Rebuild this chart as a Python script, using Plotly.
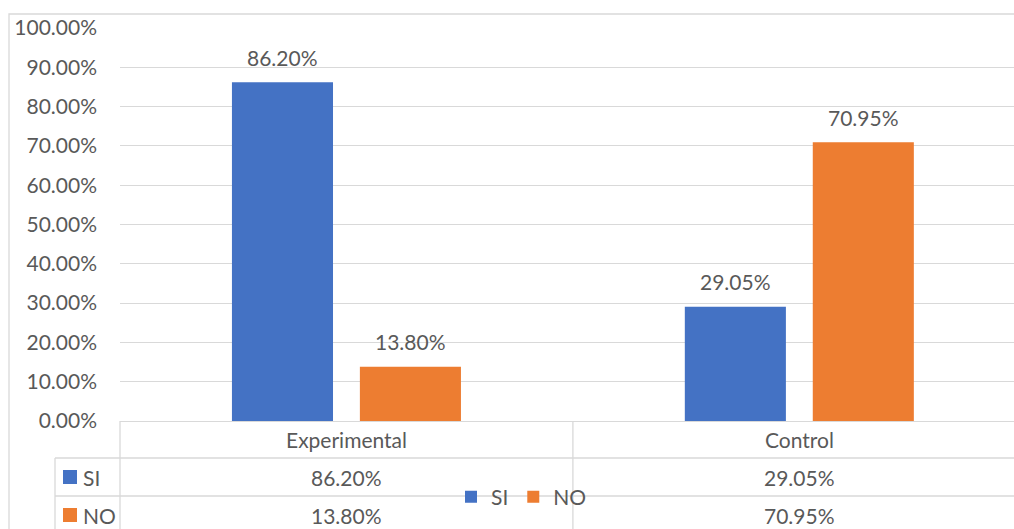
import plotly.graph_objects as go

categories = ["Experimental", "Control"]
series_names = ["SI", "NO"]
si_values = [86.20, 29.05]
no_values = [13.80, 70.95]
colors = ["#4472C4", "#ED7D31"]

W, H = 1014, 529
L, R, T, B = 120, 1014, 28, 421
FONT = "Lato"
TXT = "#595959"
GRID = "#D9D9D9"
FS = 21


def px(x):
    return (x - L) / (R - L)


def py(y):
    return (B - y) / (B - T)


fig = go.Figure()
for name, vals, col in zip(series_names, [si_values, no_values], colors):
    fig.add_trace(go.Bar(name=name, x=categories, y=vals, marker_color=col,
                         marker_line_width=0))

annotations = []
shapes = []

# data labels above the bars
for k, (vals, shift) in enumerate(zip([si_values, no_values], [-64, 64])):
    for i, v in enumerate(vals):
        annotations.append(dict(x=i, y=v, xref="x", yref="y", text=f"{v:.2f}%",
                                showarrow=False, xshift=shift, yshift=25,
                                yanchor="middle",
                                font=dict(family=FONT, size=FS, color=TXT)))

# data table: header row with categories
for i, c in enumerate(categories):
    annotations.append(dict(x=i, y=py(439), xref="x", yref="paper", text=c,
                            showarrow=False, yanchor="middle",
                            font=dict(family=FONT, size=FS, color=TXT)))

# data table: value rows
row_centers = [477, 515]
for r, (name, vals, col) in enumerate(zip(series_names, [si_values, no_values], colors)):
    yc = row_centers[r]
    annotations.append(dict(x=px(81), y=py(yc), xref="paper", yref="paper", text=name,
                            showarrow=False, xanchor="left", yanchor="middle",
                            font=dict(family=FONT, size=FS, color=TXT)))
    shapes.append(dict(type="rect", xref="paper", yref="paper",
                       x0=px(63), x1=px(77), y0=py(yc - 7), y1=py(yc + 7),
                       fillcolor=col, line_width=0))
    for i, v in enumerate(vals):
        annotations.append(dict(x=i, y=py(yc), xref="x", yref="paper", text=f"{v:.2f}%",
                                showarrow=False, yanchor="middle",
                                font=dict(family=FONT, size=FS, color=TXT)))

line = dict(color=GRID, width=1.3)
# table grid lines
shapes += [
    dict(type="line", xref="paper", yref="paper", x0=px(55), x1=px(1030), y0=py(458), y1=py(458), line=line),
    dict(type="line", xref="paper", yref="paper", x0=px(55), x1=px(1030), y0=py(496), y1=py(496), line=line),
    dict(type="line", xref="paper", yref="paper", x0=px(55), x1=px(55), y0=py(458), y1=py(545), line=line),
    dict(type="line", xref="paper", yref="paper", x0=px(120), x1=px(120), y0=py(421), y1=py(545), line=line),
    dict(type="line", xref="x", yref="paper", x0=0.5, x1=0.5, y0=py(421), y1=py(545), line=line),
    # chart area border
    dict(type="rect", xref="paper", yref="paper", x0=px(9), x1=px(1030), y0=py(14), y1=py(545),
         line=line, fillcolor="rgba(0,0,0,0)"),
]

fig.update_layout(
    width=W, height=H,
    margin=dict(l=L, r=W - R, t=T, b=H - B, pad=0),
    paper_bgcolor="white", plot_bgcolor="white",
    barmode="group", bargap=0.435, bargroupgap=0.21,
    font=dict(family=FONT, size=FS, color=TXT),
    showlegend=True,
    legend=dict(orientation="h", x=px(451), y=py(497), xanchor="left", yanchor="middle",
                font=dict(family=FONT, size=FS, color=TXT), bgcolor="rgba(0,0,0,0)",
                itemwidth=30, tracegroupgap=0),
    annotations=annotations,
    shapes=shapes,
    xaxis=dict(type="category", range=[-0.5, 1.474], showticklabels=False,
               showgrid=False, showline=True, linecolor=GRID, linewidth=1.3,
               ticks="", fixedrange=True),
    yaxis=dict(range=[0, 100], dtick=10, tickformat=".2f", ticksuffix="%",
               showgrid=True, gridcolor=GRID, gridwidth=1.3, zeroline=False,
               showline=False, ticks="", ticklabelstandoff=22,
               tickfont=dict(family=FONT, size=FS, color=TXT)),
)

fig.write_html("out.html", config={"displayModeBar": False},
               post_script="document.body.style.margin='0px';document.body.style.overflow='hidden';")
